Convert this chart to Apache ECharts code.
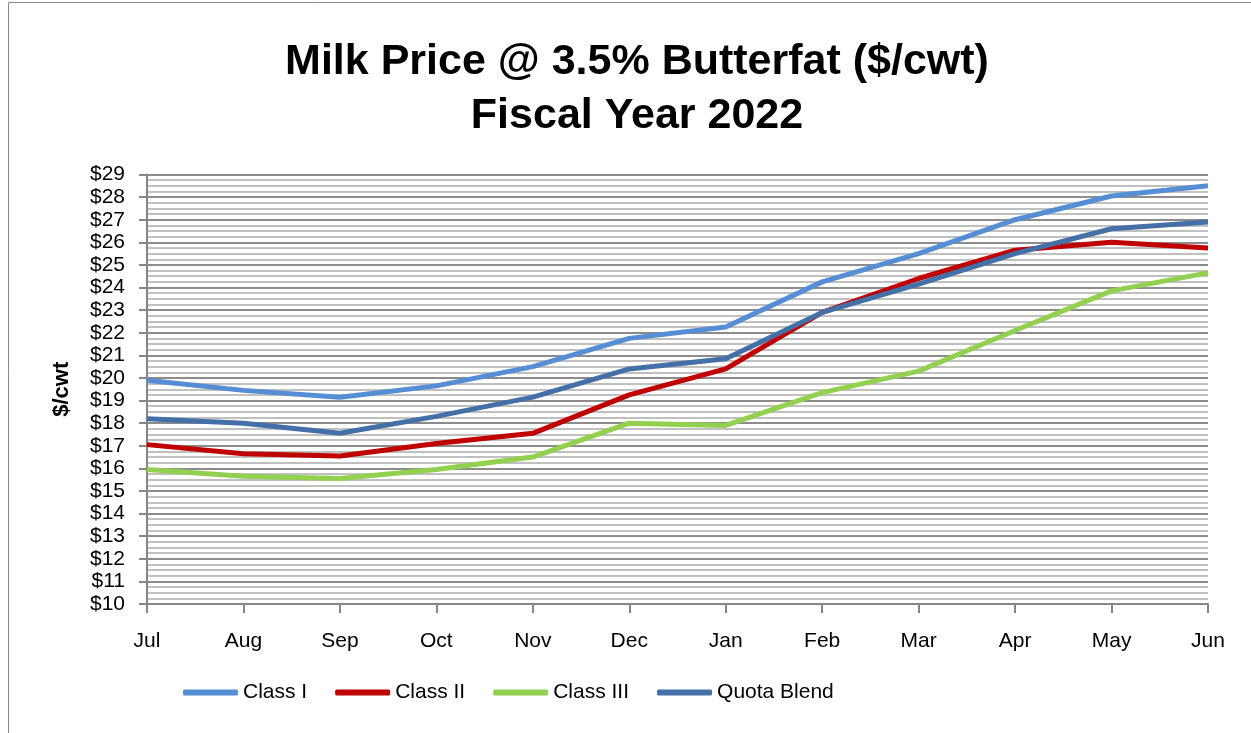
<!DOCTYPE html>
<html>
<head>
<meta charset="utf-8">
<script src="https://cdn.jsdelivr.net/npm/echarts@6/dist/echarts.min.js"></script>
<style>
  html, body { margin: 0; padding: 0; background: #fff; }
  #chart { width: 1251px; height: 733px; }
</style>
</head>
<body>
<div id="chart"></div>
<script>
// months of fiscal year 2022
const months = ['Jul', 'Aug', 'Sep', 'Oct', 'Nov', 'Dec', 'Jan', 'Feb', 'Mar', 'Apr', 'May', 'Jun'];

// $/cwt
const classI = [19.9, 19.45, 19.15, 19.65, 20.5, 21.75, 22.25, 24.25, 25.5, 27.0, 28.05, 28.5];
const classII = [17.05, 16.65, 16.55, 17.1, 17.55, 19.25, 20.4, 22.9, 24.4, 25.65, 26.0, 25.75];
const classIII = [15.95, 15.65, 15.55, 15.95, 16.5, 18.0, 17.9, 19.35, 20.3, 22.1, 23.85, 24.65];
const quotaBlend = [18.2, 18.0, 17.55, 18.3, 19.15, 20.4, 20.85, 22.9, 24.15, 25.5, 26.6, 26.9];

const font = 'Liberation Sans';

const chart = echarts.init(document.getElementById('chart'));

function line(name, data, color) {
  return {
    name: name,
    type: 'line',
    data: data,
    symbol: 'none',
    lineStyle: { color: color, width: 5 },
    itemStyle: { color: color }
  };
}

chart.setOption({
  animation: false,
  backgroundColor: '#fff',
  textStyle: { fontFamily: font },
  graphic: [{
    type: 'rect',
    shape: { x: 8.5, y: 2.5, width: 1300, height: 800 },
    style: { fill: 'none', stroke: '#8a8a8a', lineWidth: 1 },
    silent: true
  }],
  title: {
    text: 'Milk Price @ 3.5% Butterfat ($/cwt)\nFiscal Year 2022',
    left: 632,
    textAlign: 'center',
    top: 30,
    textStyle: { fontFamily: font, fontSize: 43, fontWeight: 'bold', color: '#000', lineHeight: 54 }
  },
  legend: {
    left: 178,
    top: 677,
    itemWidth: 55,
    itemHeight: 6,
    itemGap: 28,
    icon: 'roundRect',
    textStyle: { fontFamily: font, fontSize: 21, color: '#000' },
    data: ['Class I', 'Class II', 'Class III', 'Quota Blend']
  },
  grid: { left: 147, right: 43, top: 174.5, bottom: 129 },
  xAxis: {
    type: 'category',
    data: months,
    boundaryGap: false,
    axisLine: { lineStyle: { color: '#868686', width: 2 } },
    axisTick: { show: true, length: 9, lineStyle: { color: '#868686', width: 2 } },
    axisLabel: { color: '#000', fontSize: 21, margin: 27, fontFamily: font },
    splitLine: { show: false }
  },
  yAxis: {
    type: 'value',
    min: 10,
    max: 29,
    interval: 1,
    name: '$/cwt',
    nameLocation: 'middle',
    nameGap: 74,
    nameRotate: 90,
    nameTextStyle: { fontFamily: font, fontSize: 22, fontWeight: 'bold', color: '#000' },
    axisLine: { show: true, lineStyle: { color: '#868686', width: 2 } },
    axisTick: { show: true, length: 8, lineStyle: { color: '#868686', width: 2 } },
    axisLabel: { color: '#000', fontSize: 21, margin: 22, fontFamily: font, formatter: v => '$' + v },
    splitLine: { show: true, lineStyle: { color: '#8c8c8c', width: 2 } },
    minorTick: { show: false, splitNumber: 4 },
    minorSplitLine: { show: true, lineStyle: { color: '#c0c0c0', width: 2 } }
  },
  series: [
    line('Class I', classI, '#558ed5'),
    line('Class II', classII, '#c00000'),
    line('Class III', classIII, '#92d050'),
    line('Quota Blend', quotaBlend, '#4470a8')
  ]
});
</script>
</body>
</html>
